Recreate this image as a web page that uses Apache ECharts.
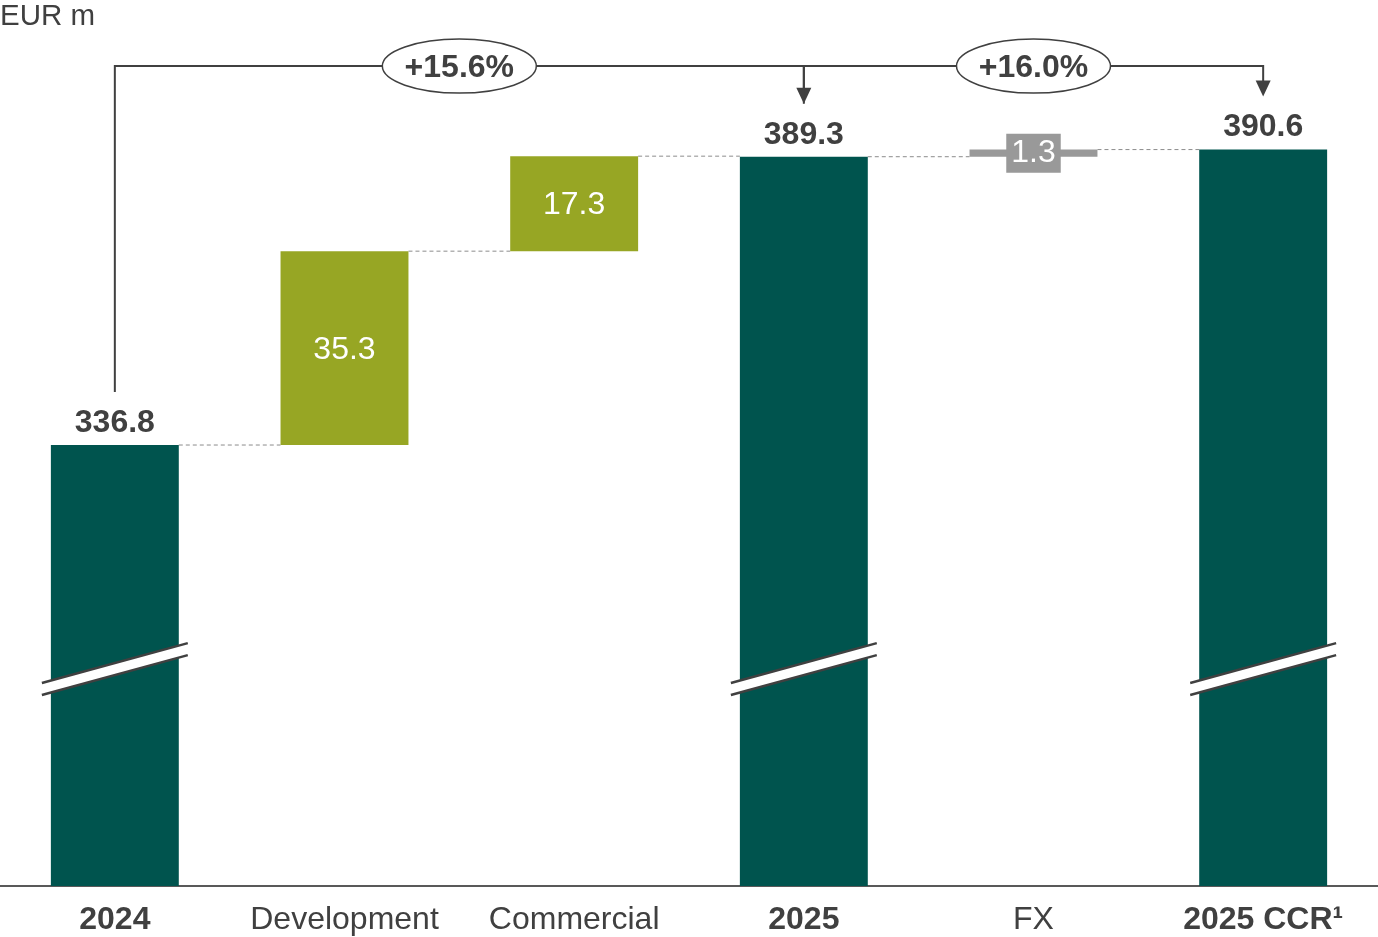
<!DOCTYPE html>
<html>
<head>
<meta charset="utf-8">
<script src="https://cdn.jsdelivr.net/npm/echarts@6/dist/echarts.min.js"></script>
<style>
  html, body { margin: 0; padding: 0; background: #ffffff; }
  #chart { width: 1378px; height: 937px; }
</style>
</head>
<body>
<div id="chart"></div>
<script>
// Revenue bridge, EUR m
const categories = ['2024', 'Development', 'Commercial', '2025', 'FX', '2025 CCR\u00B9'];
const barKinds   = ['total', 'increase', 'increase', 'total', 'fx', 'total'];
const barValues  = [336.8, 35.3, 17.3, 389.3, 1.3, 390.6];
const barBases   = [0, 336.8, 372.1, 0, 389.3, 0];

// growth brackets drawn above the bars
const growthFrom   = [0, 3];
const growthTo     = [3, 5];
const growthLabels = ['+15.6%', '+16.0%'];

// total bars that get an axis-break mark
const brokenBars = [0, 3, 5];

const FONT = '"Liberation Sans", Arial, sans-serif';
const TEXT = '#404040';
const COLORS = { total: '#00544E', increase: '#97A624', fx: '#999999' };
const FS = 32;
const BAR_RATIO = 0.557;
const BREAK_LEVEL = 296;
const BRACKET_LEVEL = 405.8;
const ARROW_GAP = 53;

const barTops = barValues.map((v, i) => barBases[i] + v);

const chart = echarts.init(document.getElementById('chart'), null, { renderer: 'canvas' });

const valueItems = barValues.map((v, i) => {
  const kind = barKinds[i];
  const item = { value: v, itemStyle: { color: COLORS[kind] } };
  if (kind === 'total') {
    item.label = { show: true, position: 'top', distance: 6, color: TEXT, fontWeight: 'bold', fontSize: FS };
  } else if (kind === 'increase') {
    item.label = { show: true, position: 'inside', offset: [0, 2], color: '#ffffff', fontSize: FS };
  } else {
    item.label = { show: true, position: 'inside', color: '#ffffff', fontSize: FS,
                   backgroundColor: COLORS.fx, padding: [4, 5, 3, 5], lineHeight: 32 };
  }
  return item;
});

function barHalfWidth(api) {
  return api.size([1, 0])[0] * BAR_RATIO / 2;
}

const option = {
  animation: false,
  textStyle: { fontFamily: FONT },
  grid: { left: 0, right: 0, top: 65, bottom: 51, containLabel: false },
  xAxis: {
    type: 'category',
    data: categories,
    axisLine: { lineStyle: { color: '#595959', width: 2 } },
    axisTick: { show: false },
    axisLabel: {
      interval: 0,
      margin: 18,
      formatter: (v, i) => (barKinds[i] === 'total' ? '{b|' + v + '}' : '{n|' + v + '}'),
      rich: {
        b: { fontSize: FS, fontWeight: 'bold', color: TEXT, fontFamily: FONT },
        n: { fontSize: FS, color: TEXT, fontFamily: FONT }
      }
    }
  },
  yAxis: {
    type: 'value',
    min: 256.5,
    max: 406,
    show: false,
    splitLine: { show: false }
  },
  graphic: [{
    type: 'text', left: 0, top: 2,
    style: { text: 'EUR m', fontSize: 29.5, fill: TEXT, fontFamily: FONT }
  }],
  series: [
    {
      name: 'base', type: 'bar', stack: 'bridge', silent: true, clip: true,
      barWidth: (BAR_RATIO * 100) + '%',
      itemStyle: { color: 'transparent' },
      data: barBases
    },
    {
      name: 'value', type: 'bar', stack: 'bridge', clip: true,
      barWidth: (BAR_RATIO * 100) + '%',
      label: { formatter: p => Number(p.value).toFixed(1), fontFamily: FONT },
      data: valueItems
    },
    {
      // dashed connectors between neighbouring bar tops
      name: 'connectors', type: 'custom', silent: true, z: 1,
      data: barTops.slice(0, -1).map((t, i) => [i, t]),
      renderItem: (params, api) => {
        const p = api.coord([api.value(0), api.value(1)]);
        const step = api.size([1, 0])[0];
        const hw = barHalfWidth(api);
        return {
          type: 'line',
          shape: { x1: p[0] + hw, y1: p[1], x2: p[0] + step - hw, y2: p[1] },
          style: { stroke: '#8c8c8c', lineWidth: 1, lineDash: [4, 3] }
        };
      }
    },
    {
      // axis-break slashes across the total bars
      name: 'breaks', type: 'custom', silent: true, z: 5, clip: false,
      data: brokenBars.map(i => [i, BREAK_LEVEL]),
      renderItem: (params, api) => {
        const p = api.coord([api.value(0), api.value(1)]);
        const L = barHalfWidth(api) + 9;
        const dy = L * 20 / 73;
        const g = 6;
        return {
          type: 'group',
          children: [
            { type: 'polygon',
              shape: { points: [[p[0] - L, p[1] + dy - g], [p[0] + L, p[1] - dy - g],
                                [p[0] + L, p[1] - dy + g], [p[0] - L, p[1] + dy + g]] },
              style: { fill: '#ffffff' } },
            { type: 'line',
              shape: { x1: p[0] - L, y1: p[1] + dy - g, x2: p[0] + L, y2: p[1] - dy - g },
              style: { stroke: '#404040', lineWidth: 2.5 } },
            { type: 'line',
              shape: { x1: p[0] - L, y1: p[1] + dy + g, x2: p[0] + L, y2: p[1] - dy + g },
              style: { stroke: '#404040', lineWidth: 2.5 } }
          ]
        };
      }
    },
    {
      // growth brackets with arrows and percentage ellipses
      name: 'growth', type: 'custom', silent: true, z: 6, clip: false,
      encode: { x: [0, 1], y: [2, 3] },
      data: growthFrom.map((f, k) => [f, growthTo[k], barTops[f], barTops[growthTo[k]]]),
      renderItem: (params, api) => {
        const a = api.coord([api.value(0), api.value(2)]);
        const b = api.coord([api.value(1), api.value(3)]);
        const by = api.coord([api.value(0), BRACKET_LEVEL])[1];
        const tip = b[1] - ARROW_GAP;
        const ah = 16, aw = 7.5;
        const cx = (a[0] + b[0]) / 2;
        return {
          type: 'group',
          children: [
            { type: 'polyline',
              shape: { points: [[a[0], a[1] - ARROW_GAP], [a[0], by], [b[0], by], [b[0], tip - ah + 1]] },
              style: { stroke: '#404040', lineWidth: 2, fill: null } },
            { type: 'polygon',
              shape: { points: [[b[0] - aw, tip - ah], [b[0] + aw, tip - ah], [b[0], tip]] },
              style: { fill: '#404040' } },
            { type: 'ellipse',
              shape: { cx: cx, cy: by, rx: 77, ry: 27 },
              style: { fill: '#ffffff', stroke: '#404040', lineWidth: 1.5 } },
            { type: 'text', x: cx, y: by + 2,
              style: { text: growthLabels[params.dataIndex], fontSize: FS, fontWeight: 'bold',
                       fill: TEXT, fontFamily: FONT, align: 'center', verticalAlign: 'middle' } }
          ]
        };
      }
    }
  ]
};

chart.setOption(option);
</script>
</body>
</html>
